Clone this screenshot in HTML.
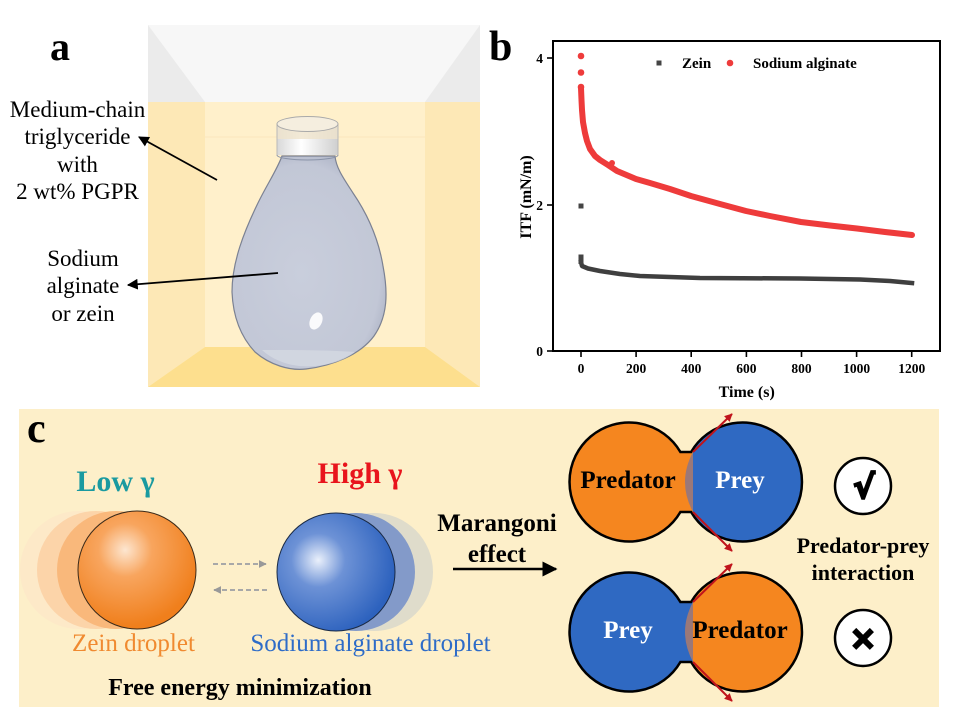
<!DOCTYPE html>
<html><head><meta charset="utf-8"><style>
html,body{margin:0;padding:0;background:#fff;}
svg{display:block;}
text{font-family:"Liberation Serif",serif;}
</style></head><body>
<svg width="955" height="721" viewBox="0 0 955 721" xmlns="http://www.w3.org/2000/svg">
<defs>
  <linearGradient id="capg" x1="0" y1="0" x2="1" y2="0">
    <stop offset="0" stop-color="#d8d8d8"/><stop offset="0.4" stop-color="#ffffff"/><stop offset="1" stop-color="#cfcfcf"/>
  </linearGradient>
  <radialGradient id="bottleg" cx="0.45" cy="0.55" r="0.6">
    <stop offset="0" stop-color="#c9cedc"/><stop offset="0.85" stop-color="#c2c7d6"/><stop offset="1" stop-color="#aeb4c6"/>
  </radialGradient>
  <radialGradient id="og" cx="0.4" cy="0.33" r="0.65">
    <stop offset="0" stop-color="#fde6d0"/><stop offset="0.35" stop-color="#f8a55e"/><stop offset="1" stop-color="#f07f1c"/>
  </radialGradient>
  <radialGradient id="bg" cx="0.35" cy="0.4" r="0.65">
    <stop offset="0" stop-color="#eaf0fb"/><stop offset="0.35" stop-color="#6d92d6"/><stop offset="1" stop-color="#2d62be"/>
  </radialGradient>
  <clipPath id="rightclip"><rect x="693" y="380" width="200" height="340"/></clipPath>
  <marker id="ah" viewBox="0 0 10 10" refX="9" refY="5" markerWidth="6" markerHeight="6" orient="auto-start-reverse">
    <path d="M0,0 L10,5 L0,10 Z" fill="#000"/>
  </marker>
  <marker id="ahr" viewBox="0 0 10 10" refX="9" refY="5" markerWidth="4" markerHeight="4" orient="auto">
    <path d="M0,0 L10,5 L0,10 Z" fill="#c0141c"/>
  </marker>
  <marker id="ahg" viewBox="0 0 10 10" refX="9" refY="5" markerWidth="4" markerHeight="4" orient="auto">
    <path d="M0,0 L10,5 L0,10 Z" fill="#999"/>
  </marker>
</defs>

<!-- ===== Panel a ===== -->
<rect x="148" y="25" width="332" height="77" fill="#f7f7f7"/>
<polygon points="148,25 148,102 205,102" fill="#ebebeb"/>
<polygon points="480,25 480,102 425,102" fill="#ebebeb"/>
<rect x="148" y="102" width="332" height="285" fill="#fff0cb"/>
<polygon points="148,102 205,102 205,347 148,387" fill="#fde8b6"/>
<polygon points="480,102 425,102 425,347 480,387" fill="#fde8b6"/>
<polygon points="148,387 205,347 425,347 480,387" fill="#fddf8e"/>
<line x1="205" y1="137" x2="425" y2="137" stroke="#fbe6bd" stroke-width="1"/>

<!-- bottle -->
<path d="M282,156 C277,170 266,186 257,205 C244,232 232,262 232,292 C233,316 240,336 255,352 C270,365 290,371 306,369 C332,366 360,355 374,336 C388,316 388,292 383,266 C378,236 366,212 353,193 C344,179 336,168 335,156 Z" fill="url(#bottleg)" stroke="#7b8192" stroke-width="1.2"/>
<path d="M262,350 C275,362 295,368 315,366 C330,365 345,360 355,352 C330,350 290,350 262,350 Z" fill="#d7dbe4" opacity="0.7"/>
<ellipse cx="316" cy="321" rx="6" ry="9" fill="#ffffff" opacity="0.9" transform="rotate(25 316 321)"/>
<rect x="277" y="124" width="61" height="31" fill="url(#capg)"/>
<rect x="277" y="124" width="61" height="15" fill="#efe4cc" opacity="0.8"/>
<path d="M277,155 A30.5,5 0 0 0 338,155" fill="none" stroke="#8a93a8" stroke-width="1"/>
<line x1="277" y1="124" x2="277" y2="155" stroke="#b8b8b8" stroke-width="1"/>
<line x1="338" y1="124" x2="338" y2="155" stroke="#b8b8b8" stroke-width="1"/>
<ellipse cx="307.5" cy="124" rx="30.5" ry="7.5" fill="#f5eedf" stroke="#aaa" stroke-width="1"/>

<text x="50" y="60" font-size="40" font-weight="bold">a</text>
<g font-size="23" text-anchor="middle" fill="#000">
  <text x="77.5" y="117">Medium-chain</text>
  <text x="77.5" y="144">triglyceride</text>
  <text x="77.5" y="172">with</text>
  <text x="77.5" y="199">2 wt% PGPR</text>
  <text x="83" y="266">Sodium</text>
  <text x="83" y="293">alginate</text>
  <text x="83" y="321">or zein</text>
</g>
<line x1="217" y1="180" x2="139" y2="137" stroke="#000" stroke-width="1.8" marker-end="url(#ah)"/>
<line x1="278" y1="273" x2="128" y2="285" stroke="#000" stroke-width="1.8" marker-end="url(#ah)"/>

<!-- ===== Panel b ===== -->
<text x="489" y="60" font-size="42" font-weight="bold">b</text>
<rect x="553" y="41" width="387" height="310" fill="#fff" stroke="#000" stroke-width="2"/>
<g stroke="#000" stroke-width="1.6">
  <line x1="547" y1="58" x2="553" y2="58"/>
  <line x1="547" y1="205" x2="553" y2="205"/>
  <line x1="547" y1="351" x2="553" y2="351"/>
  <line x1="581" y1="351" x2="581" y2="357"/>
  <line x1="636.1" y1="351" x2="636.1" y2="357"/>
  <line x1="691.2" y1="351" x2="691.2" y2="357"/>
  <line x1="746.4" y1="351" x2="746.4" y2="357"/>
  <line x1="801.5" y1="351" x2="801.5" y2="357"/>
  <line x1="856.6" y1="351" x2="856.6" y2="357"/>
  <line x1="911.7" y1="351" x2="911.7" y2="357"/>
</g>
<g font-size="13.5" font-weight="bold" text-anchor="end">
  <text x="543" y="63">4</text>
  <text x="543" y="210">2</text>
  <text x="543" y="356">0</text>
</g>
<g font-size="13.5" font-weight="bold" text-anchor="middle">
  <text x="581" y="373">0</text>
  <text x="636.1" y="373">200</text>
  <text x="691.2" y="373">400</text>
  <text x="746.4" y="373">600</text>
  <text x="801.5" y="373">800</text>
  <text x="856.6" y="373">1000</text>
  <text x="911.7" y="373">1200</text>
</g>
<text x="746.7" y="397" font-size="16" font-weight="bold" text-anchor="middle">Time (s)</text>
<text transform="translate(531,197) rotate(-90)" font-size="16" font-weight="bold" text-anchor="middle">ITF (mN/m)</text>

<!-- legend -->
<rect x="656.5" y="60.5" width="5" height="5" fill="#444"/>
<text x="682" y="68" font-size="15" font-weight="bold">Zein</text>
<circle cx="730" cy="63" r="3.3" fill="#ee3b3b"/>
<text x="753" y="68" font-size="15" font-weight="bold">Sodium alginate</text>

<!-- data -->
<path d="M581,262 L582,266 L588,268.5 L600,271 L620,274 L640,276 L700,278 L800,278.5 L860,279.5 L890,281 L912,283" fill="none" stroke="#3f3f3f" stroke-width="4.5" stroke-linejoin="round" stroke-linecap="square"/>
<rect x="578.5" y="203.5" width="5" height="5" fill="#444"/>
<rect x="578.5" y="254.5" width="5" height="5" fill="#444"/>
<rect x="578.5" y="259" width="5" height="5" fill="#444"/>
<path d="M581,88 L581.5,100 L582,110 L583,122 L585,133 L587,141 L590,149 L595,156 L600,160 L608,165 L617,171 L636,179 L650,183 L670,189 L691,196 L720,204 L746,211 L770,216 L801,222 L830,225.5 L857,228.5 L885,232 L912,235" fill="none" stroke="#ee3b3b" stroke-width="6" stroke-linejoin="round" stroke-linecap="round"/>
<circle cx="581" cy="56" r="3.3" fill="#ee3b3b"/>
<circle cx="581" cy="72.5" r="3.3" fill="#ee3b3b"/>
<circle cx="581" cy="87" r="3.3" fill="#ee3b3b"/>
<circle cx="612" cy="163" r="3" fill="#ee3b3b"/>

<!-- ===== Panel c ===== -->
<rect x="19" y="409" width="920" height="298" fill="#fdefc9"/>
<text x="27" y="442" font-size="42" font-weight="bold">c</text>

<text x="115.5" y="491" font-size="30" font-weight="bold" fill="#1a9aa0" text-anchor="middle">Low γ</text>
<text x="360" y="483" font-size="30" font-weight="bold" fill="#e8141c" text-anchor="middle">High γ</text>

<!-- orange sphere with ghosts -->
<circle cx="79" cy="570" r="59" fill="#fde3c6" opacity="0.55"/>
<circle cx="96" cy="570" r="59" fill="#fbd0a3" opacity="0.85"/>
<circle cx="116" cy="570" r="59" fill="#f8b575" opacity="0.9"/>
<circle cx="137" cy="570" r="59" fill="url(#og)" stroke="#3a2a1a" stroke-width="1"/>

<!-- blue sphere with ghosts -->
<circle cx="374" cy="572" r="59" fill="#dcd9cb" opacity="0.9"/>
<circle cx="356" cy="572" r="59" fill="#7d96c8" opacity="0.95"/>
<circle cx="336" cy="572" r="59" fill="url(#bg)" stroke="#1a2a44" stroke-width="1"/>

<!-- dashed arrows -->
<line x1="213" y1="564" x2="266" y2="564" stroke="#a8a8a8" stroke-width="2" stroke-dasharray="5,3" marker-end="url(#ahg)"/>
<line x1="267" y1="590" x2="214" y2="590" stroke="#a8a8a8" stroke-width="2" stroke-dasharray="5,3" marker-end="url(#ahg)"/>

<text x="133.5" y="651" font-size="25" fill="#f08a30" text-anchor="middle">Zein droplet</text>
<text x="370.5" y="651" font-size="25" fill="#2e6cc8" text-anchor="middle">Sodium alginate droplet</text>
<text x="240" y="695" font-size="24" font-weight="bold" text-anchor="middle">Free energy minimization</text>

<text x="497" y="531" font-size="25" font-weight="bold" text-anchor="middle">Marangoni</text>
<text x="497" y="562" font-size="25" font-weight="bold" text-anchor="middle">effect</text>
<line x1="453" y1="569" x2="556" y2="569" stroke="#000" stroke-width="2.5" marker-end="url(#ah)"/>

<!-- pair 1 -->
<g>
  <path d="M680.4,452 A59.5,59.5 0 1 0 680.4,512 L691.1,512 A59.5,59.5 0 1 0 691.1,452 Z" fill="#f5861f"/>
  <path d="M680.4,452 A59.5,59.5 0 1 0 680.4,512 L691.1,512 A59.5,59.5 0 1 0 691.1,452 Z" fill="#2f69c2" clip-path="url(#rightclip)"/>
  <path d="M693,452 Q677,482 693,512 Z" fill="#9b7878"/>
  <path d="M680.4,452 A59.5,59.5 0 1 0 680.4,512 L691.1,512 A59.5,59.5 0 1 0 691.1,452 Z" fill="none" stroke="#000" stroke-width="2.5"/>
  <line x1="693" y1="452" x2="732" y2="414" stroke="#c0141c" stroke-width="2" marker-end="url(#ahr)"/>
  <line x1="693" y1="512" x2="732" y2="551" stroke="#c0141c" stroke-width="2" marker-end="url(#ahr)"/>
  <text x="628" y="488" font-size="25" font-weight="bold" text-anchor="middle">Predator</text>
  <text x="740" y="488" font-size="25" font-weight="bold" fill="#fff" text-anchor="middle">Prey</text>
</g>
<!-- pair 2 -->
<g transform="translate(0,150)">
  <path d="M680.4,452 A59.5,59.5 0 1 0 680.4,512 L691.1,512 A59.5,59.5 0 1 0 691.1,452 Z" fill="#2f69c2"/>
  <path d="M680.4,452 A59.5,59.5 0 1 0 680.4,512 L691.1,512 A59.5,59.5 0 1 0 691.1,452 Z" fill="#f5861f" clip-path="url(#rightclip)"/>
  <path d="M693,452 Q677,482 693,512 Z" fill="#9b7878"/>
  <path d="M680.4,452 A59.5,59.5 0 1 0 680.4,512 L691.1,512 A59.5,59.5 0 1 0 691.1,452 Z" fill="none" stroke="#000" stroke-width="2.5"/>
  <line x1="693" y1="452" x2="732" y2="414" stroke="#c0141c" stroke-width="2" marker-end="url(#ahr)"/>
  <line x1="693" y1="512" x2="732" y2="551" stroke="#c0141c" stroke-width="2" marker-end="url(#ahr)"/>
  <text x="628" y="488" font-size="25" font-weight="bold" fill="#fff" text-anchor="middle">Prey</text>
  <text x="740" y="488" font-size="25" font-weight="bold" text-anchor="middle">Predator</text>
</g>

<circle cx="863" cy="486" r="28" fill="#fff" stroke="#000" stroke-width="2.5"/>
<text x="864" y="498" font-size="32" font-weight="bold" text-anchor="middle" style="font-family:'DejaVu Sans',sans-serif" stroke="#000" stroke-width="2.2">√</text>
<circle cx="863" cy="638" r="28" fill="#fff" stroke="#000" stroke-width="2.5"/>
<text x="863" y="649" font-size="32" font-weight="bold" text-anchor="middle" style="font-family:'DejaVu Sans',sans-serif" stroke="#000" stroke-width="2.2">×</text>

<text x="863" y="553" font-size="22" font-weight="bold" text-anchor="middle">Predator-prey</text>
<text x="863" y="580" font-size="22" font-weight="bold" text-anchor="middle">interaction</text>
</svg>
</body></html>
